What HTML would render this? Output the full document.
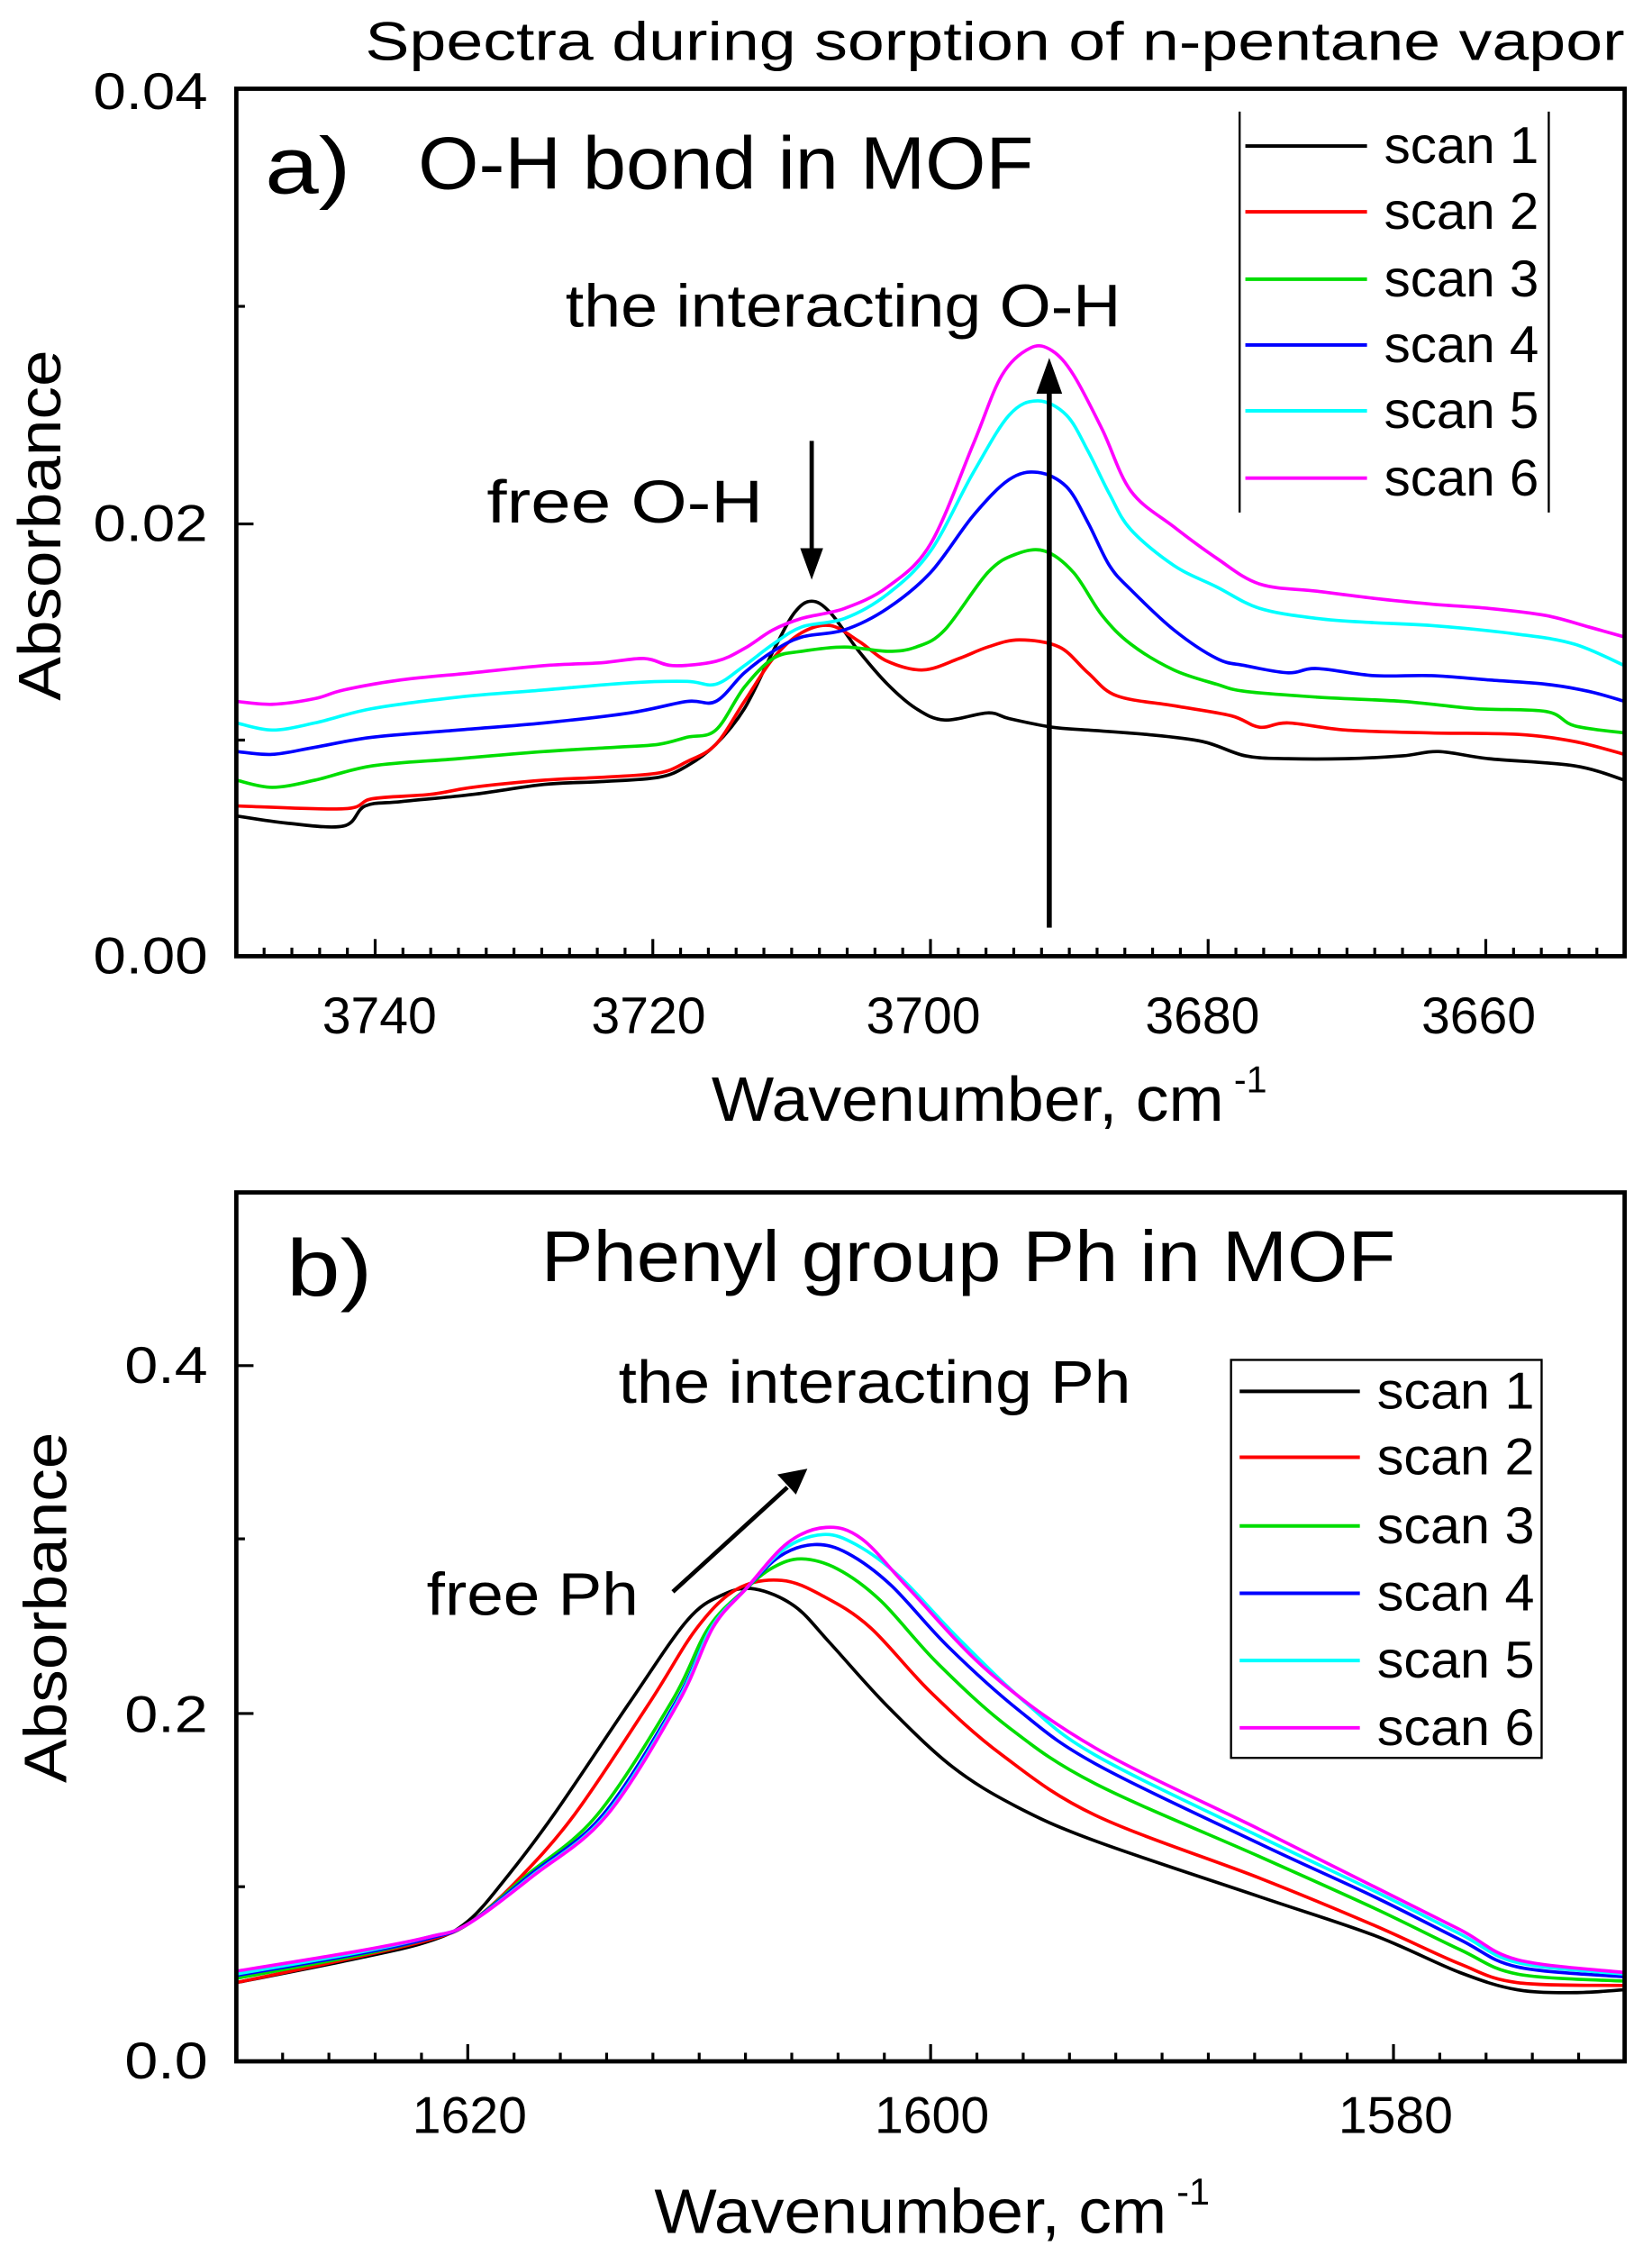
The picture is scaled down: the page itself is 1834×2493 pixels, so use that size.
<!DOCTYPE html>
<html><head><meta charset="utf-8"><style>
html,body{margin:0;padding:0;background:#fff;}
svg{display:block;}
text{font-family:"Liberation Sans",Arial,sans-serif;fill:#000;}
</style></head><body>
<svg id="s" width="1834" height="2493" viewBox="0 0 1154 1569" xmlns="http://www.w3.org/2000/svg">
<rect width="1154" height="1569" fill="#fff"/>
<g id="curves"></g>
<!-- Panel a -->
<text x="255" y="42" font-size="38" textLength="880" lengthAdjust="spacingAndGlyphs">Spectra during sorption of n-pentane vapor</text>
<rect x="165" y="62" width="970" height="606" fill="none" stroke="#000" stroke-width="3"/>
<g id="ticksA" stroke="#000" stroke-width="2"></g>
<text x="65" y="76" font-size="36" textLength="80" lengthAdjust="spacingAndGlyphs">0.04</text>
<text x="65" y="378" font-size="36" textLength="80" lengthAdjust="spacingAndGlyphs">0.02</text>
<text x="65" y="680" font-size="36" textLength="80" lengthAdjust="spacingAndGlyphs">0.00</text>
<g font-size="36">
<text x="225" y="722" textLength="80" lengthAdjust="spacingAndGlyphs">3740</text><text x="413" y="722" textLength="80" lengthAdjust="spacingAndGlyphs">3720</text><text x="605" y="722" textLength="80" lengthAdjust="spacingAndGlyphs">3700</text><text x="800" y="722" textLength="80" lengthAdjust="spacingAndGlyphs">3680</text><text x="993" y="722" textLength="80" lengthAdjust="spacingAndGlyphs">3660</text>
</g>
<text x="497" y="783" font-size="44" textLength="358" lengthAdjust="spacingAndGlyphs">Wavenumber, cm</text><text x="862" y="763" font-size="26">-1</text>
<text transform="translate(42,367) rotate(-90)" font-size="42" text-anchor="middle" textLength="245" lengthAdjust="spacingAndGlyphs">Absorbance</text>
<text x="185" y="135" font-size="56" textLength="60" lengthAdjust="spacingAndGlyphs">a)</text>
<text x="292" y="132" font-size="52" textLength="430" lengthAdjust="spacingAndGlyphs">O-H bond in MOF</text>
<text x="395" y="228" font-size="42" textLength="388" lengthAdjust="spacingAndGlyphs">the interacting O-H</text>
<text x="340" y="365" font-size="42" textLength="193" lengthAdjust="spacingAndGlyphs">free O-H</text>
<line x1="567" y1="308" x2="567" y2="385" stroke="#000" stroke-width="3"/>
<polygon points="559,383 575,383 567,405" fill="#000"/>
<line x1="733" y1="648" x2="733" y2="272" stroke="#000" stroke-width="3.5"/>
<polygon points="724,275 742,275 733,250" fill="#000"/>
<line x1="866" y1="78" x2="866" y2="358" stroke="#000" stroke-width="1.5"/>
<line x1="1082" y1="78" x2="1082" y2="358" stroke="#000" stroke-width="1.5"/>
<g id="legA"></g>
<!-- Panel b -->
<rect x="165" y="833" width="970" height="607" fill="none" stroke="#000" stroke-width="3"/>
<g id="ticksB" stroke="#000" stroke-width="2"></g>
<text x="87" y="1452" font-size="36" textLength="58" lengthAdjust="spacingAndGlyphs">0.0</text>
<text x="87" y="1210" font-size="36" textLength="58" lengthAdjust="spacingAndGlyphs">0.2</text>
<text x="87" y="966" font-size="36" textLength="58" lengthAdjust="spacingAndGlyphs">0.4</text>
<g font-size="36">
<text x="288" y="1490" textLength="80" lengthAdjust="spacingAndGlyphs">1620</text><text x="611" y="1490" textLength="80" lengthAdjust="spacingAndGlyphs">1600</text><text x="935" y="1490" textLength="80" lengthAdjust="spacingAndGlyphs">1580</text>
</g>
<text x="457" y="1560" font-size="44" textLength="358" lengthAdjust="spacingAndGlyphs">Wavenumber, cm</text><text x="822" y="1540" font-size="26">-1</text>
<text transform="translate(46,1123) rotate(-90)" font-size="42" text-anchor="middle" textLength="245" lengthAdjust="spacingAndGlyphs">Absorbance</text>
<text x="200" y="905" font-size="56" textLength="60" lengthAdjust="spacingAndGlyphs">b)</text>
<text x="378" y="895" font-size="50" textLength="597" lengthAdjust="spacingAndGlyphs">Phenyl group Ph in MOF</text>
<text x="432" y="980" font-size="42" textLength="358" lengthAdjust="spacingAndGlyphs">the interacting Ph</text>
<text x="298" y="1128" font-size="42" textLength="148" lengthAdjust="spacingAndGlyphs">free Ph</text>
<line x1="470" y1="1112" x2="550" y2="1039" stroke="#000" stroke-width="3"/>
<polygon points="543,1030 556,1044 564,1026" fill="#000"/>
<rect x="860" y="950" width="217" height="278" fill="#fff" stroke="#000" stroke-width="1.5"/>
<g id="legB"></g>
</svg>
<script>
var NS="http://www.w3.org/2000/svg";
function el(tag,attrs,parent){var e=document.createElementNS(NS,tag);for(var k in attrs)e.setAttribute(k,attrs[k]);parent.appendChild(e);return e;}
function path(p){var d="M"+p[0][0]+","+p[0][1];for(var i=0;i<p.length-1;i++){var p0=p[Math.max(i-1,0)],p1=p[i],p2=p[i+1],p3=p[Math.min(i+2,p.length-1)];
var c1x=p1[0]+(p2[0]-p0[0])/6,c1y=p1[1]+(p2[1]-p0[1])/6,c2x=p2[0]-(p3[0]-p1[0])/6,c2y=p2[1]-(p3[1]-p1[1])/6;
d+=" C"+c1x.toFixed(1)+","+c1y.toFixed(1)+" "+c2x.toFixed(1)+","+c2y.toFixed(1)+" "+p2[0]+","+p2[1];}return d;}
function arr(a){var r=[];for(var i=0;i<a.length;i+=2)r.push([a[i],a[i+1]]);return r;}
var cols=["#000","#f00","#0d0","#00f","#0ff","#f0f"];
var A=[
[165,570,200,575,240,577,255,563,280,560,330,555,380,548,420,546,460,543,480,535,500,520,520,495,540,455,555,428,567,420,580,428,600,455,620,478,640,495,660,503,690,498,705,502,735,508,760,510,800,513,840,518,870,528,900,530,940,530,980,528,1005,525,1040,530,1100,535,1135,545],
[165,563,240,565,260,558,300,555,330,550,380,545,420,543,460,540,480,532,500,520,520,490,540,460,560,442,580,437,600,448,620,462,645,468,670,460,690,452,712,447,740,452,760,470,780,486,820,493,860,500,880,508,900,505,940,510,1000,512,1060,513,1100,518,1135,527],
[165,545,190,550,220,545,260,535,320,530,380,525,430,522,460,520,480,515,500,510,520,480,540,460,560,455,590,452,620,455,640,452,660,440,690,400,710,387,730,385,750,400,770,430,790,450,820,468,850,478,870,483,920,487,980,490,1030,495,1080,497,1100,507,1135,512],
[165,525,190,527,220,522,260,515,320,510,380,505,440,498,480,490,500,490,520,470,540,455,560,445,590,440,620,425,650,400,680,360,705,335,725,330,745,340,760,365,775,395,790,412,820,440,850,460,870,465,900,470,920,467,960,472,1000,472,1040,475,1080,478,1110,483,1135,490],
[165,505,190,510,220,505,260,495,320,487,380,482,440,477,480,476,500,478,520,465,540,450,560,438,590,432,620,415,650,385,680,330,705,290,725,280,745,290,760,315,775,345,790,370,820,395,850,410,880,425,920,432,960,435,1000,437,1060,443,1100,450,1135,465],
[165,490,190,492,220,488,240,482,280,475,330,470,380,465,420,463,450,460,470,465,500,462,520,453,540,440,560,432,590,425,620,410,650,380,680,310,700,262,720,243,735,245,750,262,770,300,790,343,820,368,850,390,880,408,920,413,960,418,1000,422,1040,425,1080,430,1110,438,1135,445]];
var B=[
[165,1385,250,1368,300,1356,327,1342,355,1310,388,1266,440,1189,480,1132,505,1114,527,1110,555,1122,580,1148,620,1192,665,1234,710,1262,765,1286,880,1325,960,1352,1020,1378,1060,1390,1100,1392,1135,1390],
[165,1385,250,1367,300,1355,327,1344,360,1315,401,1268,454,1189,487,1137,515,1110,546,1104,575,1115,608,1137,650,1182,700,1226,765,1268,880,1312,960,1345,1020,1372,1060,1385,1135,1387],
[165,1382,250,1366,300,1354,327,1344,368,1310,417,1268,469,1189,495,1137,521,1110,540,1095,560,1089,585,1096,615,1118,655,1162,705,1207,765,1246,880,1297,960,1333,1020,1362,1060,1379,1135,1384],
[165,1380,250,1365,300,1354,327,1344,370,1310,421,1268,472,1189,497,1137,521,1110,545,1087,569,1079,592,1085,622,1107,662,1150,712,1195,765,1232,880,1288,960,1325,1020,1355,1060,1374,1135,1381],
[165,1379,250,1364,300,1353,327,1344,372,1310,423,1268,473,1189,497,1137,521,1110,548,1082,575,1072,598,1079,628,1101,668,1143,716,1189,765,1226,880,1283,960,1321,1020,1351,1060,1371,1135,1379],
[165,1377,250,1363,300,1353,327,1344,373,1310,424,1268,474,1189,498,1137,521,1110,550,1078,577,1067,602,1075,636,1111,692,1169,765,1221,880,1278,960,1318,1020,1348,1060,1369,1135,1378]];
var g=document.getElementById("curves");
A.forEach(function(a,i){el("path",{d:path(arr(a)),fill:"none",stroke:cols[i],"stroke-width":2.3},g);});
B.forEach(function(a,i){el("path",{d:path(arr(a)),fill:"none",stroke:cols[i],"stroke-width":2.3},g);});
var tA=document.getElementById("ticksA");
for(var w=3750;w>=3650;w-=2){var x=165+(3750-w)*9.7;var maj=(w%20==0);el("line",{x1:x,y1:668,x2:x,y2:maj?656:662},tA);}
[214,366,517].forEach(function(y){el("line",{x1:165,y1:y,x2:(y==366?177:171),y2:y},tA);});
var tB=document.getElementById("ticksB");
for(var w=1630;w>=1570;w-=2){var x=165+(1630-w)*16.17;var maj=(w%20==0);el("line",{x1:x,y1:1440,x2:x,y2:maj?1428:1434},tB);}
[1318,1197,1075,954].forEach(function(y,i){el("line",{x1:165,y1:y,x2:(i%2?177:171),y2:y},tB);});
var lA=document.getElementById("legA"),lB=document.getElementById("legB");
[102,148,195,241,287,334].forEach(function(y,i){el("line",{x1:870,y1:y,x2:955,y2:y,stroke:cols[i],"stroke-width":2.5},lA);
var t=el("text",{x:967,y:y+12,"font-size":36,textLength:108,lengthAdjust:"spacingAndGlyphs"},lA);t.textContent="scan "+(i+1);});
[972,1018,1066,1113,1160,1207].forEach(function(y,i){el("line",{x1:866,y1:y,x2:950,y2:y,stroke:cols[i],"stroke-width":2.5},lB);
var t=el("text",{x:962,y:y+12,"font-size":36,textLength:110,lengthAdjust:"spacingAndGlyphs"},lB);t.textContent="scan "+(i+1);});
</script>
</body></html>
